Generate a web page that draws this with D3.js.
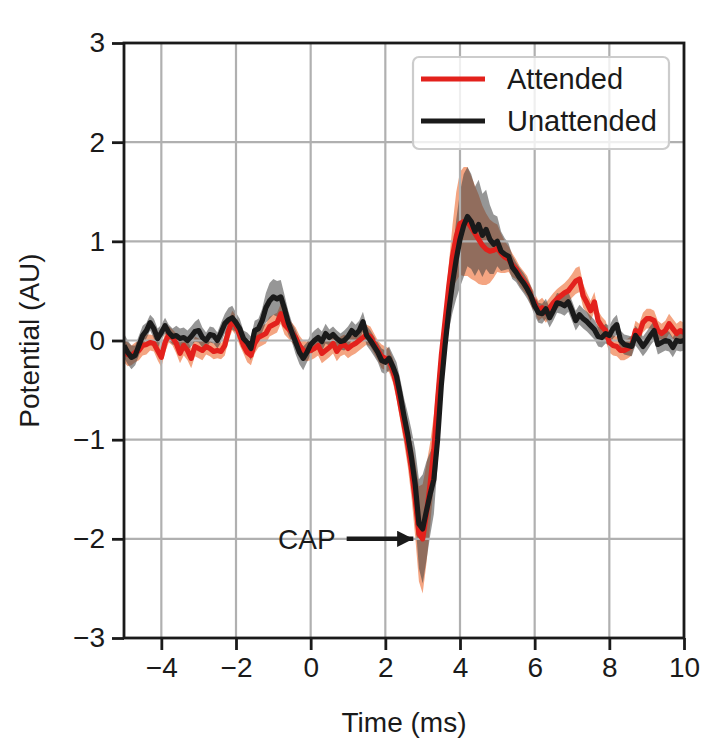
<!DOCTYPE html>
<html>
<head>
<meta charset="utf-8">
<script src="https://cdn.jsdelivr.net/npm/d3@7"></script>
<style>
	body { margin: 0; background: #ffffff; }
	text { font-family: "Liberation Sans", Arial, sans-serif; fill: #1a1a1a; }
</style>
</head>
<body>
<div id="chart"></div>
<script>
// time axis, 0.1 ms steps from -5 to 10
var tStart = -5, tStep = 0.1;

var attended = [
	-0.1, -0.14, -0.15, -0.12, -0.1, -0.05, -0.04, -0.02, -0.03, -0.1,
	-0.17, -0.02, 0.06, 0.03, -0.03, -0.13, -0.05, -0.1, -0.18, -0.06,
	-0.08, -0.1, -0.06, -0.08, -0.11, -0.1, -0.11, -0.05, 0.1, 0.2,
	0.15, 0.05, -0.05, -0.12, -0.15, -0.03, 0.03, 0.05, 0.07, 0.14,
	0.16, 0.18, 0.27, 0.16, 0.12, 0.08, 0.03, -0.05, -0.1, -0.11,
	-0.1, -0.08, -0.05, -0.13, -0.1, -0.07, -0.03, -0.11, -0.06, -0.04,
	-0.08, -0.05, -0.03, 0.0, 0.03, 0.06, 0.04, -0.03, -0.1, -0.16,
	-0.18, -0.2, -0.3, -0.45, -0.65, -0.85, -1.05, -1.3, -1.6, -1.95,
	-2.0, -1.75, -1.45, -1.1, -0.6, -0.15, 0.2, 0.55, 0.85, 1.05,
	1.18, 1.2, 1.2, 1.14, 1.08, 1.02, 0.96, 0.92, 0.9, 0.91,
	0.93, 0.88, 0.84, 0.82, 0.76, 0.72, 0.65, 0.6, 0.55, 0.45,
	0.38, 0.3, 0.33, 0.28, 0.33, 0.38, 0.42, 0.45, 0.48, 0.5,
	0.55, 0.6, 0.62, 0.45, 0.38, 0.3, 0.39, 0.2, 0.14, 0.1,
	-0.02, -0.05, -0.06, -0.1, -0.1, -0.08, -0.05, 0.1, 0.07, 0.18,
	0.22, 0.22, 0.2, 0.1, 0.07, 0.1, 0.17, 0.12, 0.07, 0.1,
	0.08
];
var attendedSem = [
	0.12, 0.12, 0.1, 0.1, 0.1, 0.1, 0.1, 0.08, 0.08, 0.1,
	0.1, 0.1, 0.08, 0.08, 0.1, 0.1, 0.1, 0.1, 0.1, 0.1,
	0.1, 0.1, 0.08, 0.08, 0.08, 0.08, 0.08, 0.1, 0.1, 0.1,
	0.1, 0.1, 0.08, 0.1, 0.1, 0.1, 0.1, 0.1, 0.1, 0.1,
	0.1, 0.1, 0.1, 0.1, 0.1, 0.1, 0.1, 0.1, 0.1, 0.1,
	0.1, 0.1, 0.1, 0.1, 0.1, 0.1, 0.1, 0.1, 0.1, 0.1,
	0.1, 0.1, 0.1, 0.1, 0.1, 0.1, 0.1, 0.1, 0.1, 0.12,
	0.12, 0.12, 0.12, 0.14, 0.16, 0.18, 0.22, 0.28, 0.38, 0.48,
	0.55, 0.5, 0.42, 0.35, 0.25, 0.18, 0.15, 0.22, 0.32, 0.45,
	0.52, 0.55, 0.55, 0.52, 0.48, 0.45, 0.4, 0.36, 0.32, 0.28,
	0.24, 0.2, 0.16, 0.13, 0.12, 0.1, 0.1, 0.1, 0.1, 0.1,
	0.1, 0.1, 0.1, 0.1, 0.1, 0.1, 0.1, 0.1, 0.1, 0.12,
	0.12, 0.13, 0.13, 0.12, 0.1, 0.1, 0.1, 0.1, 0.1, 0.1,
	0.1, 0.1, 0.1, 0.1, 0.1, 0.1, 0.1, 0.1, 0.1, 0.1,
	0.1, 0.1, 0.1, 0.1, 0.1, 0.1, 0.1, 0.1, 0.1, 0.1,
	0.1
];
var unattended = [
	-0.05, -0.12, -0.17, -0.15, -0.05, 0.05, 0.1, 0.18, 0.12, 0.02,
	0.08, 0.15, 0.08, 0.04, 0.05, 0.02, 0.03, 0.0, 0.04, 0.09,
	0.1, 0.03, 0.0, 0.06, 0.05, 0.0, 0.08, 0.17, 0.21, 0.23,
	0.18, 0.12, 0.02, -0.02, -0.08, 0.1, 0.12, 0.2, 0.33, 0.4,
	0.44, 0.42, 0.44, 0.32, 0.18, 0.08, -0.02, -0.12, -0.18, -0.12,
	-0.04, 0.0, 0.03, -0.01, 0.07, 0.03, 0.06, 0.02, -0.01, 0.0,
	0.04, 0.1, 0.06, 0.1, 0.19, 0.05, 0.0, -0.06, -0.12, -0.2,
	-0.22, -0.18, -0.26, -0.36, -0.55, -0.76, -0.95, -1.18, -1.45, -1.85,
	-1.9, -1.72, -1.55, -1.4, -1.0, -0.45, -0.05, 0.3, 0.58, 0.82,
	1.02, 1.16, 1.25, 1.2, 1.1, 1.17, 1.06, 1.12, 1.02, 0.97,
	1.0, 0.9, 0.87, 0.85, 0.74, 0.69, 0.63, 0.58, 0.52, 0.45,
	0.35, 0.28, 0.27, 0.32, 0.23, 0.3, 0.38, 0.37, 0.35, 0.39,
	0.3, 0.2, 0.26, 0.22, 0.19, 0.15, 0.11, 0.04, 0.03, 0.07,
	0.05, 0.12, 0.16, 0.0, -0.04, -0.05, -0.06, 0.05, 0.0, -0.06,
	-0.01, 0.05, 0.1, -0.04, -0.02, 0.0, -0.01, -0.07, 0.0, -0.01,
	0.0
];
var unattendedSem = [
	0.12, 0.12, 0.12, 0.1, 0.1, 0.1, 0.08, 0.08, 0.1, 0.1,
	0.08, 0.08, 0.08, 0.08, 0.1, 0.1, 0.1, 0.1, 0.1, 0.1,
	0.12, 0.1, 0.08, 0.08, 0.08, 0.08, 0.1, 0.1, 0.12, 0.12,
	0.1, 0.1, 0.08, 0.1, 0.12, 0.1, 0.1, 0.12, 0.15, 0.18,
	0.18, 0.18, 0.17, 0.14, 0.12, 0.1, 0.12, 0.12, 0.12, 0.1,
	0.1, 0.1, 0.1, 0.1, 0.1, 0.08, 0.08, 0.08, 0.08, 0.1,
	0.1, 0.1, 0.1, 0.1, 0.1, 0.1, 0.1, 0.1, 0.1, 0.12,
	0.12, 0.12, 0.12, 0.14, 0.16, 0.18, 0.22, 0.28, 0.35, 0.45,
	0.55, 0.5, 0.42, 0.35, 0.25, 0.18, 0.15, 0.2, 0.3, 0.4,
	0.48, 0.52, 0.5, 0.48, 0.45, 0.45, 0.42, 0.4, 0.35, 0.3,
	0.25, 0.2, 0.16, 0.13, 0.12, 0.1, 0.1, 0.1, 0.1, 0.1,
	0.1, 0.1, 0.1, 0.1, 0.1, 0.1, 0.1, 0.1, 0.1, 0.1,
	0.1, 0.1, 0.1, 0.1, 0.1, 0.1, 0.1, 0.1, 0.1, 0.1,
	0.1, 0.1, 0.1, 0.1, 0.1, 0.1, 0.1, 0.1, 0.1, 0.1,
	0.1, 0.1, 0.1, 0.1, 0.1, 0.1, 0.1, 0.1, 0.1, 0.1,
	0.1
];

var xTicks = [-4, -2, 0, 2, 4, 6, 8, 10];
var yTicks = [-3, -2, -1, 0, 1, 2, 3];
var seriesNames = ["Attended", "Unattended"];
var capLabel = "CAP", capTextX = 0.75, capTipX = 2.75, capY = -2;

var colors = {"Attended": "#e3211c", "Unattended": "#1a1a1a"};
var bandColors = {"Attended": "#f4a582", "Unattended": "#404040"};
var bandOpacity = {"Attended": 1, "Unattended": 0.55};

var margin = {top: 43, right: 20, bottom: 107, left: 124},
	width = 704 - margin.left - margin.right,
	height = 745 - margin.top - margin.bottom;
var fontSize = 28;
var lineW = 5.2;

var svg = d3.select("#chart").append("svg")
	.attr("width", 704)
	.attr("height", 745);

var defs = svg.append("defs");
defs.append("clipPath").attr("id", "plotClip")
	.append("rect").attr("width", width).attr("height", height);
defs.append("marker")
	.attr("id", "arrowHead")
	.attr("viewBox", "0 0 10 10")
	.attr("refX", 10).attr("refY", 5)
	.attr("markerWidth", 3.6).attr("markerHeight", 3.6)
	.attr("markerUnits", "strokeWidth")
	.attr("orient", "auto")
	.append("path")
		.attr("d", "M0,0 L10,5 L0,10 z")
		.attr("fill", "#1a1a1a");

var g = svg.append("g")
	.attr("transform", "translate(" + margin.left + "," + margin.top + ")");

var x = d3.scaleLinear().domain([-5, 10]).range([0, width]);
var y = d3.scaleLinear().domain([-3, 3]).range([height, 0]);

function toPoints(vals, sem) {
	return vals.map(function (v, i) {
		return {t: tStart + i * tStep, v: v, s: sem[i]};
	});
}
var series = [
	{name: "Attended", pts: toPoints(attended, attendedSem)},
	{name: "Unattended", pts: toPoints(unattended, unattendedSem)}
];

var plot = g.append("g").attr("clip-path", "url(#plotClip)");

// error bands
var area = d3.area()
	.x(d => x(d.t))
	.y0(d => y(d.v - d.s))
	.y1(d => y(d.v + d.s));
series.forEach(function (s) {
	plot.append("path")
		.datum(s.pts)
		.attr("d", area)
		.attr("fill", bandColors[s.name])
		.attr("fill-opacity", bandOpacity[s.name]);
});

// grid (over the bands, under the lines)
var gridG = plot.append("g");
xTicks.forEach(function (t) {
	gridG.append("line")
		.attr("x1", x(t)).attr("x2", x(t))
		.attr("y1", 0).attr("y2", height)
		.attr("stroke", "#b0b0b0").attr("stroke-width", 2.2);
});
yTicks.forEach(function (t) {
	gridG.append("line")
		.attr("x1", 0).attr("x2", width)
		.attr("y1", y(t)).attr("y2", y(t))
		.attr("stroke", "#b0b0b0").attr("stroke-width", 2.2);
});

var line = d3.line()
	.x(d => x(d.t))
	.y(d => y(d.v));
series.forEach(function (s) {
	plot.append("path")
		.datum(s.pts)
		.attr("d", line)
		.attr("fill", "none")
		.attr("stroke", colors[s.name])
		.attr("stroke-width", lineW)
		.attr("stroke-linejoin", "round");
});

// axes
var xAxis = g.append("g")
	.attr("transform", "translate(0," + height + ")")
	.call(d3.axisBottom(x).tickValues(xTicks).tickSize(12).tickPadding(7)
		.tickFormat(d => d3.format("")(d).replace("-", "\u2212")));
var yAxis = g.append("g")
	.call(d3.axisLeft(y).tickValues(yTicks).tickSize(12).tickPadding(7)
		.tickFormat(d => d3.format("")(d).replace("-", "\u2212")));
[xAxis, yAxis].forEach(function (a) {
	a.select(".domain").remove();
	a.selectAll(".tick line").attr("stroke", "#1a1a1a").attr("stroke-width", 2.8);
	a.selectAll(".tick text")
		.attr("font-size", fontSize + "px")
		.attr("font-family", "Liberation Sans, Arial, sans-serif")
		.attr("fill", "#1a1a1a");
});

g.append("rect")
	.attr("width", width).attr("height", height)
	.attr("fill", "none")
	.attr("stroke", "#1a1a1a")
	.attr("stroke-width", 2.8);

g.append("text")
	.attr("x", width / 2)
	.attr("y", height + 94)
	.attr("text-anchor", "middle")
	.attr("font-size", fontSize + "px")
	.text("Time (ms)");

g.append("text")
	.attr("transform", "translate(" + (-85) + "," + (height / 2) + ") rotate(-90)")
	.attr("text-anchor", "middle")
	.attr("font-size", fontSize + "px")
	.text("Potential (AU)");

// CAP annotation
g.append("text")
	.attr("x", x(capTextX) - 3)
	.attr("y", y(capY))
	.attr("dy", "0.35em")
	.attr("text-anchor", "end")
	.attr("font-size", fontSize + "px")
	.text(capLabel);
g.append("line")
	.attr("x1", x(capTextX) + 8)
	.attr("x2", x(capTipX))
	.attr("y1", y(capY)).attr("y2", y(capY))
	.attr("stroke", "#1a1a1a")
	.attr("stroke-width", 4.5)
	.attr("marker-end", "url(#arrowHead)");

// legend
var legend = svg.append("g").attr("transform", "translate(413,57)");
legend.append("rect")
	.attr("width", 256).attr("height", 92)
	.attr("rx", 6)
	.attr("fill", "#ffffff").attr("fill-opacity", 0.8)
	.attr("stroke", "#cccccc").attr("stroke-width", 2.2);
seriesNames.forEach(function (name, i) {
	var ly = 22 + i * 42;
	legend.append("line")
		.attr("x1", 8).attr("x2", 72)
		.attr("y1", ly).attr("y2", ly)
		.attr("stroke", colors[name])
		.attr("stroke-width", lineW);
	legend.append("text")
		.attr("x", 94)
		.attr("y", ly)
		.attr("dy", "0.35em")
		.attr("font-size", "29px")
		.text(name);
});
</script>
</body>
</html>
